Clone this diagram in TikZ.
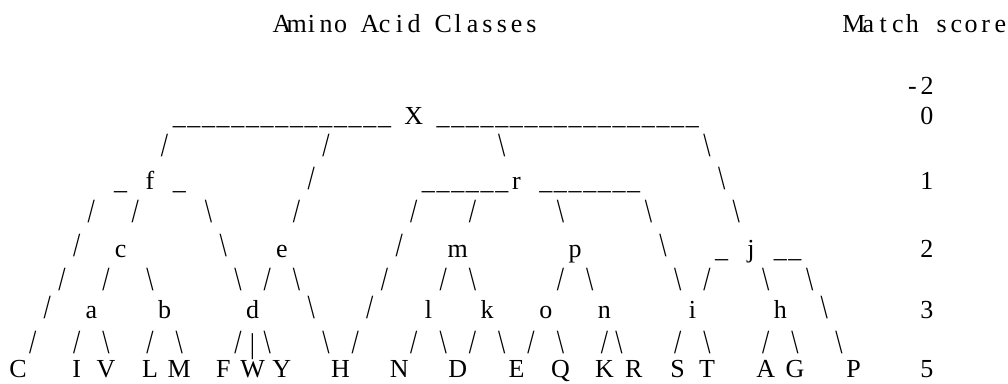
\documentclass[tikz,border=0pt]{standalone}
\usepackage{graphicx}
\usepackage{fontspec}
\setmainfont{Liberation Serif}
\newcommand\glyphfont{\fontsize{26}{30}\selectfont}
\newcommand\Sl{\scalebox{1}[1.3]{/}}
\newcommand\Bsl{\scalebox{1}[1.3]{\textbackslash}}
\newcommand\Bar{\scalebox{1}[1.1]{\textbar}}
\newcommand\Usc{\textunderscore}
\newcommand\cellbox[1]{\makebox[14.66pt]{#1}}
\tikzset{
  g/.style={inner sep=0pt, anchor=base, font=\glyphfont},
  gw/.style={inner sep=0pt, anchor=base west, font=\glyphfont},
  leaf/.style={g}
}
% place glyphs of one row on the monospace grid
\newcommand\gridrow[4][g]{%
  \foreach \c/\t in {#4} \node[#1] (#2-\c) at ({18+14.66*\c},#3) {\t};}
\newcommand\gridrun[4]{%
  \foreach \c in {#3,...,#4} \node[g] (#1-\c) at ({18+14.66*\c},#2) {\Usc};}
\begin{document}
\begin{tikzpicture}[x=1pt,y=1pt]
\useasboundingbox (0,0) rectangle (1008,383);
% headers
\node[gw] (title) at ({18+14.66*18-7.33},350)
  {\cellbox{A}\cellbox{m}\cellbox{i}\cellbox{n}\cellbox{o}\cellbox{ }\cellbox{A}\cellbox{c}\cellbox{i}\cellbox{d}\cellbox{ }\cellbox{C}\cellbox{l}\cellbox{a}\cellbox{s}\cellbox{s}\cellbox{e}\cellbox{s}};
\node[gw] (score) at ({18+14.66*57-7.33},350)
  {\cellbox{M}\cellbox{a}\cellbox{t}\cellbox{c}\cellbox{h}\cellbox{ }\cellbox{s}\cellbox{c}\cellbox{o}\cellbox{r}\cellbox{e}};
\node[gw] (sm2) at ({18+14.66*61-7.33},288) {\cellbox{-}\cellbox{2}};
% row X (score 0)
\gridrun{rx}{258}{11}{25}
\gridrun{rx}{258}{29}{46}
\gridrow{rx}{258}{27/X,62/0}
\gridrow{sa}{226}{10/\Sl,21/\Sl,33/\Bsl,47/\Bsl}
% row 1
\gridrow{ra}{193}{7/\Usc,9/f,11/\Usc,20/\Sl,34/r,48/\Bsl,62/1}
\gridrun{ra}{193}{28}{33}
\gridrun{ra}{193}{36}{42}
\gridrow{sb}{160}{5/\Sl,8/\Sl,13/\Bsl,19/\Sl,27/\Sl,31/\Sl,37/\Bsl,43/\Bsl,49/\Bsl}
% row 2
\gridrow{rb}{126}{4/\Sl,7/c,14/\Bsl,18/e,26/\Sl,30/m,38/p,44/\Bsl,48/\Usc,50/j,52/\Usc,53/\Usc,62/2}
\gridrow{sc}{93}{3/\Sl,6/\Sl,9/\Bsl,15/\Bsl,17/\Sl,19/\Bsl,25/\Sl,29/\Sl,31/\Bsl,37/\Sl,39/\Bsl,45/\Bsl,47/\Sl,51/\Bsl,54/\Bsl}
% row 3
\gridrow{rc}{65}{2/\Sl,5/a,10/b,16/d,20/\Bsl,24/\Sl,28/l,32/k,36/o,40/n,46/i,52/h,55/\Bsl,62/3}
\gridrow{sd}{29.5}{1/\Sl,4/\Sl,6/\Bsl,9/\Sl,11/\Bsl,15/\Sl,16/\Bar,17/\Bsl,21/\Bsl,23/\Sl,27/\Sl,29/\Bsl,31/\Sl,33/\Bsl,35/\Sl,37/\Bsl,40/\Sl,41/\Bsl,45/\Sl,47/\Bsl,51/\Sl,53/\Bsl,56/\Bsl}
% leaves (score 5)
\gridrow[leaf]{lf}{6}{0/C,4/I,6/V,9/L,11/M,14/F,16/W,18/Y,22/H,26/N,30/D,34/E,37/Q,40/K,42/R,45/S,47/T,51/A,53/G,57/P,62/5}
\end{tikzpicture}
\end{document}
